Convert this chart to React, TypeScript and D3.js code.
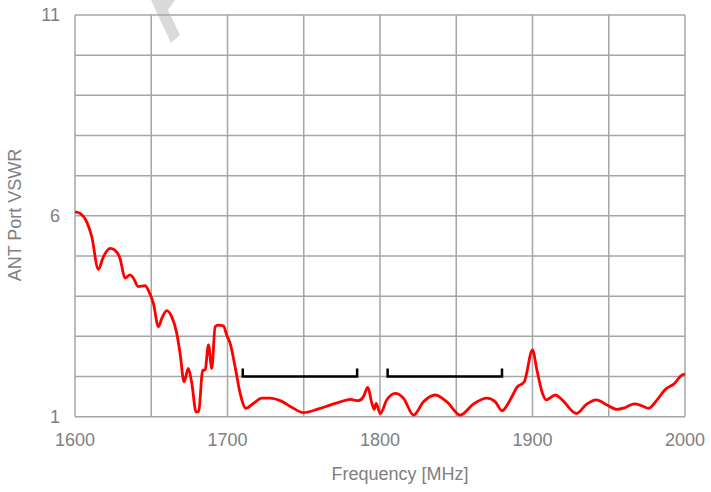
import React from "react";
import * as d3 from "d3";

const freqs = [1600,1603.3,1607.7,1611,1615.3,1618.6,1623,1626,1629.5,1632.8,1636,1638,1641.5,1646,1649,1651.4,1654.7,1656.9,1660.2,1663.4,1666.7,1668.9,1671.5,1674.3,1676.6,1679.4,1681,1683.8,1685.3,1687.5,1689.7,1691.9,1694,1697.3,1699.5,1701.7,1705,1708.3,1712,1717,1722.5,1728,1734.5,1743.2,1749.8,1758.6,1767.3,1773.9,1780.4,1785.9,1789.2,1792,1794.7,1796.2,1797.5,1800.1,1804.5,1810,1815.4,1822,1828.5,1836.2,1843.9,1852.6,1861.4,1870.1,1875.6,1880,1885.4,1889.8,1894.6,1900,1902.9,1906.2,1909,1915,1919.4,1928.7,1935.7,1941.8,1948.9,1955.4,1960.9,1966.8,1971.8,1976.2,1981.7,1987.2,1992.6,1998.1,2000];
const vswr = [6.1,6.06,5.85,5.48,4.67,4.98,5.19,5.15,4.94,4.45,4.53,4.47,4.24,4.26,4.07,3.82,3.24,3.45,3.64,3.49,3.08,2.58,1.87,2.2,1.83,1.12,1.12,2.16,2.16,2.79,2.2,3.24,3.28,3.26,3.03,2.83,2.24,1.58,1.21,1.33,1.46,1.46,1.4,1.21,1.1,1.18,1.29,1.37,1.43,1.4,1.5,1.73,1.33,1.18,1.33,1.08,1.42,1.58,1.46,1.04,1.37,1.54,1.37,1.04,1.32,1.46,1.37,1.15,1.42,1.73,1.87,2.66,2.16,1.62,1.42,1.54,1.42,1.08,1.32,1.42,1.29,1.18,1.23,1.32,1.27,1.21,1.42,1.68,1.81,2.04,2.06];

const bandStarts = [1710, 1805];
const bandEnds = [1785, 1880];
const bandLevel = 2;

const xTicks = [1600, 1700, 1800, 1900, 2000];
const xGrid = [1600, 1650, 1700, 1750, 1800, 1850, 1900, 1950, 2000];
const yTicks = [1, 6, 11];
const yGrid = [1, 2, 3, 4, 5, 6, 7, 8, 9, 10, 11];

export default function App() {
  const W = 711, H = 492;
  const x = d3.scaleLinear().domain([1600, 2000]).range([75, 685]);
  const y = d3.scaleLinear().domain([1, 11]).range([416.7, 15]);
  const line = d3.line<number>()
    .x((_, i) => x(freqs[i]))
    .y((d) => y(d))
    .curve(d3.curveMonotoneX);
  const gridColor = "#a6a6a6";
  const textColor = "#808080";
  const font = "'Liberation Sans', Arial, sans-serif";
  return (
    <svg width={W} height={H} style={{ position: "absolute", left: 0, top: 0 }}>
      <rect width={W} height={H} fill="#fff" />
      <path d="M151,0H175L168,10L180,35L171,43Z" fill="#dadada" />
      {xGrid.map((f) => (
        <line key={"xg" + f} x1={x(f)} x2={x(f)} y1={y(11)} y2={y(1)} stroke={gridColor} strokeWidth={1.5} />
      ))}
      {yGrid.map((v) => (
        <line key={"yg" + v} x1={x(1600)} x2={x(2000)} y1={y(v)} y2={y(v)} stroke={gridColor} strokeWidth={1.5} />
      ))}
      {bandStarts.map((s, i) => (
        <path key={"b" + i}
          d={`M${x(s)},${y(bandLevel) - 8}V${y(bandLevel)}H${x(bandEnds[i])}V${y(bandLevel) - 8}`}
          fill="none" stroke="#000" strokeWidth={2.5} />
      ))}
      <path d={line(vswr) || ""} fill="none" stroke="#ff0000" strokeWidth={2.8} strokeLinejoin="round" />
      {xTicks.map((f) => (
        <text key={"xt" + f} x={x(f)} y={446} textAnchor="middle" fontSize={18} fontFamily={font} fill={textColor}>{f}</text>
      ))}
      {yTicks.map((v) => (
        <text key={"yt" + v} x={60} y={y(v) + 6} textAnchor="end" fontSize={18} fontFamily={font} fill={textColor}>{v}</text>
      ))}
      <text x={400} y={480} textAnchor="middle" fontSize={18} fontFamily={font} fill={textColor}>Frequency [MHz]</text>
      <text transform={`translate(21,215) rotate(-90)`} textAnchor="middle" fontSize={18} fontFamily={font} fill={textColor}>ANT Port VSWR</text>
    </svg>
  );
}
